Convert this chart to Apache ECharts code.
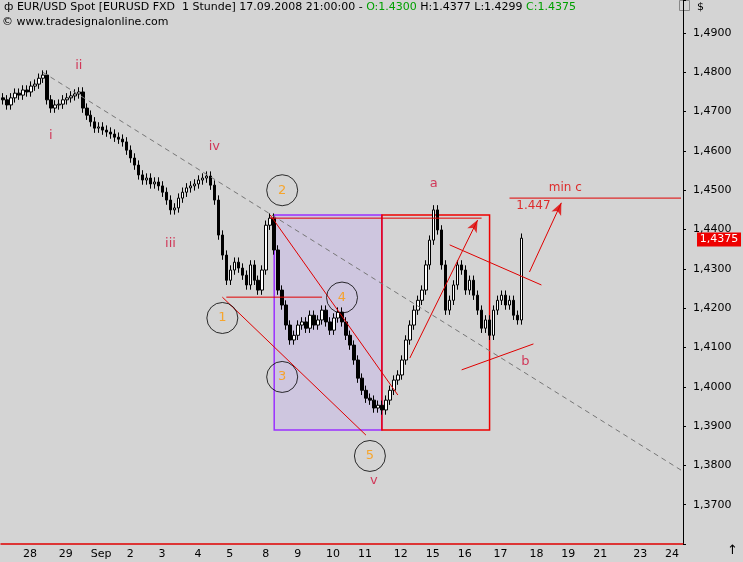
<!DOCTYPE html>
<html>
<head>
<meta charset="utf-8">
<script src="https://cdn.jsdelivr.net/npm/echarts@6/dist/echarts.min.js"></script>
<style>
  body { margin: 0; background: #d4d4d4; }
  #chart { width: 743px; height: 562px; }
</style>
</head>
<body>
<div id="chart"></div>
<script>
// hourly EUR/USD closes, one value per bar slot
var closes = [
 1.4730,1.4717,1.4735,1.4747,1.4742,1.4755,1.4750,1.4765,1.4770,1.4785,
 1.4793,1.4730,1.4709,1.4717,1.4719,1.4730,1.4735,1.4740,1.4745,1.4750,
 1.4709,1.4691,1.4674,1.4658,1.4661,1.4653,1.4648,1.4643,1.4635,1.4630,
 1.4623,1.4602,1.4582,1.4564,1.4539,1.4526,1.4531,1.4516,1.4521,1.4511,
 1.4495,1.4475,1.4450,1.4455,1.4480,1.4495,1.4506,1.4511,1.4516,1.4526,
 1.4531,1.4536,1.4513,1.4475,1.4386,1.4335,1.4271,1.4297,1.4317,1.4302,
 1.4284,1.4259,1.4310,1.4271,1.4246,1.4297,1.4411,1.4429,1.4348,1.4246,
 1.4208,1.4157,1.4119,1.4131,1.4157,1.4165,1.4149,1.4182,1.4157,1.4170,
 1.4195,1.4165,1.4144,1.4175,1.4190,1.4165,1.4131,1.4106,1.4068,1.4022,
 1.3991,1.3971,1.3966,1.3946,1.3953,1.3941,1.3966,1.3991,1.4017,1.4030,
 1.4068,1.4119,1.4157,1.4195,1.4220,1.4246,1.4310,1.4373,1.4450,1.4399,
 1.4310,1.4195,1.4220,1.4259,1.4310,1.4297,1.4246,1.4271,1.4233,1.4195,
 1.4149,1.4170,1.4131,1.4195,1.4220,1.4233,1.4208,1.4220,1.4182,1.4170,
 1.4378
];
var slotCount = 171;
// day labels and the bar slot where each one sits
var dayLabels = ['28','29','Sep','2','3','4','5','8','9','10','11','12','15','16','17','18','19','21','23','24'];
var daySlots  = [5,14,22,31,39,48,56,65,73,81,89,98,106,114,123,132,140,148,158,166];
var wick = 0.0012;

// wave counts: [slot, price, text]
var redLabels = [[12,1.4640,'i'],[19,1.4818,'ii'],[42,1.4365,'iii'],[53,1.4610,'iv'],[93,1.3762,'v'],[108,1.4518,'a'],[131,1.4064,'b']];
var circleLabels = [[70,1.4500,'2'],[55,1.4175,'1'],[70,1.4025,'3'],[85,1.4227,'4'],[92,1.3824,'5']];

var cats = [], labelOf = {};
for (var i = 0; i < daySlots.length; i++) labelOf[daySlots[i]] = dayLabels[i];
for (var i = 0; i < slotCount; i++) cats.push(labelOf[i] || '');

var candles = [];
for (var i = 0; i < closes.length; i++) {
  var o = i > 0 ? closes[i - 1] : closes[0] + 0.0005, c = closes[i];
  candles.push([o, c, Math.min(o, c) - wick, Math.max(o, c) + wick]);
}

function seg(a, b, extra) {
  var s = { type: 'line', data: [a, b], symbol: 'none', silent: true,
    lineStyle: { color: '#e00000', width: 1 }, z: 5 };
  for (var k in extra) s[k] = extra[k];
  return s;
}

var chart = echarts.init(document.getElementById('chart'));
var font = 'DejaVu Sans';
chart.setOption({
  backgroundColor: '#d4d4d4',
  animation: false,
  textStyle: { fontFamily: font },
  grid: { left: 0, right: 60, top: 0, bottom: 18 },
  graphic: [
    { type: 'text', left: 4, top: 2, style: { rich: {
        k: { fill: '#000', fontSize: 11, fontFamily: font },
        g: { fill: '#00a000', fontSize: 11, fontFamily: font } },
      text: '{k|ф EUR/USD Spot [EURUSD FXD  1 Stunde] 17.09.2008 21:00:00 - }{g|O:1.4300 }{k|H:1.4377 L:1.4299 }{g|C:1.4375}' } },
    { type: 'text', left: 2, top: 17, style: { text: '© www.tradesignalonline.com', fill: '#000', fontSize: 11, fontFamily: font } },
    { type: 'text', left: 697, top: 2, style: { text: '$', fill: '#000', fontSize: 11, fontFamily: font } },
    { type: 'rect', left: 679, top: 0, shape: { width: 10, height: 10 }, style: { fill: '#d4d4d4', stroke: '#888' } },
    { type: 'text', left: 727, top: 544, style: { text: '↑', fill: '#000', fontSize: 13, fontFamily: font } }
  ],
  xAxis: {
    type: 'category', data: cats, boundaryGap: true,
    axisLine: { lineStyle: { color: '#e00000', width: 1.5 } },
    axisTick: { alignWithLabel: true, interval: function (i) { return !!labelOf[i]; }, lineStyle: { color: '#000' }, length: 4 },
    axisLabel: { interval: 0, color: '#000', fontSize: 11, align: 'left', margin: 5 },
    splitLine: { show: false }
  },
  yAxis: {
    type: 'value', position: 'right', min: 1.36, max: 1.4984, interval: 0.01, scale: true,
    axisLine: { show: true, lineStyle: { color: '#000' } },
    axisTick: { show: true, length: 3, lineStyle: { color: '#000' } },
    axisLabel: { color: '#000', fontSize: 11, margin: 10,
      formatter: function (v) { return (v > 1.4983 || v < 1.365) ? '' : v.toFixed(4).replace('.', ','); } },
    splitLine: { show: false }
  },
  series: [
    { type: 'candlestick', data: candles, barWidth: 3,
      itemStyle: { color: '#ffffff', color0: '#000000', borderColor: '#000000', borderColor0: '#000000', borderWidth: 1 },
      markArea: { silent: true, data: [
        [{ coord: [68, 1.4437], itemStyle: { color: 'rgba(205,195,225,0.85)', borderColor: '#9b30ff', borderWidth: 1.5 } }, { coord: [95, 1.3890] }],
        [{ coord: [95, 1.4437], itemStyle: { color: 'rgba(0,0,0,0)', borderColor: '#ee0000', borderWidth: 1.5 } }, { coord: [122, 1.3890] }]
      ] },
      markPoint: { symbol: 'rect', symbolSize: [44, 14], data: [
        { coord: [170, 1.4375], itemStyle: { color: '#ee0000' }, symbolOffset: [38, 0],
          label: { show: true, formatter: '1,4375', color: '#fff', fontSize: 11 } }
      ] },
      z: 3
    },
    seg([10, 1.4800], [170, 1.3788], { lineStyle: { color: '#777', width: 1, type: [5, 4] } }),
    seg([67, 1.4429], [120, 1.4429]),
    seg([56, 1.4228], [80, 1.4228]),
    seg([67, 1.4437], [99, 1.3979]),
    seg([55, 1.4228], [91, 1.3877]),
    seg([102, 1.4073], [119, 1.4424]),
    seg([132, 1.4292], [140, 1.4468]),
    seg([127, 1.4480], [170, 1.4480]),
    seg([112, 1.4361], [135, 1.4259]),
    seg([115, 1.4043], [133, 1.4109]),
    { type: 'scatter', silent: true, z: 6, symbol: 'arrow', symbolSize: [8, 12],
      data: [{ value: [119, 1.4424], symbolRotate: -28 }, { value: [140, 1.4468], symbolRotate: -25 }],
      itemStyle: { color: '#e00000' } },
    { type: 'scatter', silent: true, z: 6, symbol: 'circle', symbolSize: 31,
      data: circleLabels.map(function (d) { return { value: [d[0], d[1]], name: d[2] }; }),
      itemStyle: { color: 'rgba(0,0,0,0)', borderColor: '#000', borderWidth: 1 },
      label: { show: true, position: 'inside', formatter: '{b}', color: '#ff9900', fontSize: 13 } },
    { type: 'scatter', silent: true, z: 6, symbolSize: 0,
      data: redLabels.map(function (d) { return { value: [d[0], d[1]], name: d[2] }; }),
      label: { show: true, position: 'inside', formatter: '{b}', color: '#d0103a', fontSize: 13 } },
    { type: 'scatter', silent: true, z: 6, symbolSize: 0,
      data: [{ value: [141, 1.4505], name: 'min c' }, { value: [133, 1.4460], name: '1.447' }],
      label: { show: true, position: 'inside', formatter: '{b}', color: '#e00000', fontSize: 12 } }
  ]
});
</script>
</body>
</html>
